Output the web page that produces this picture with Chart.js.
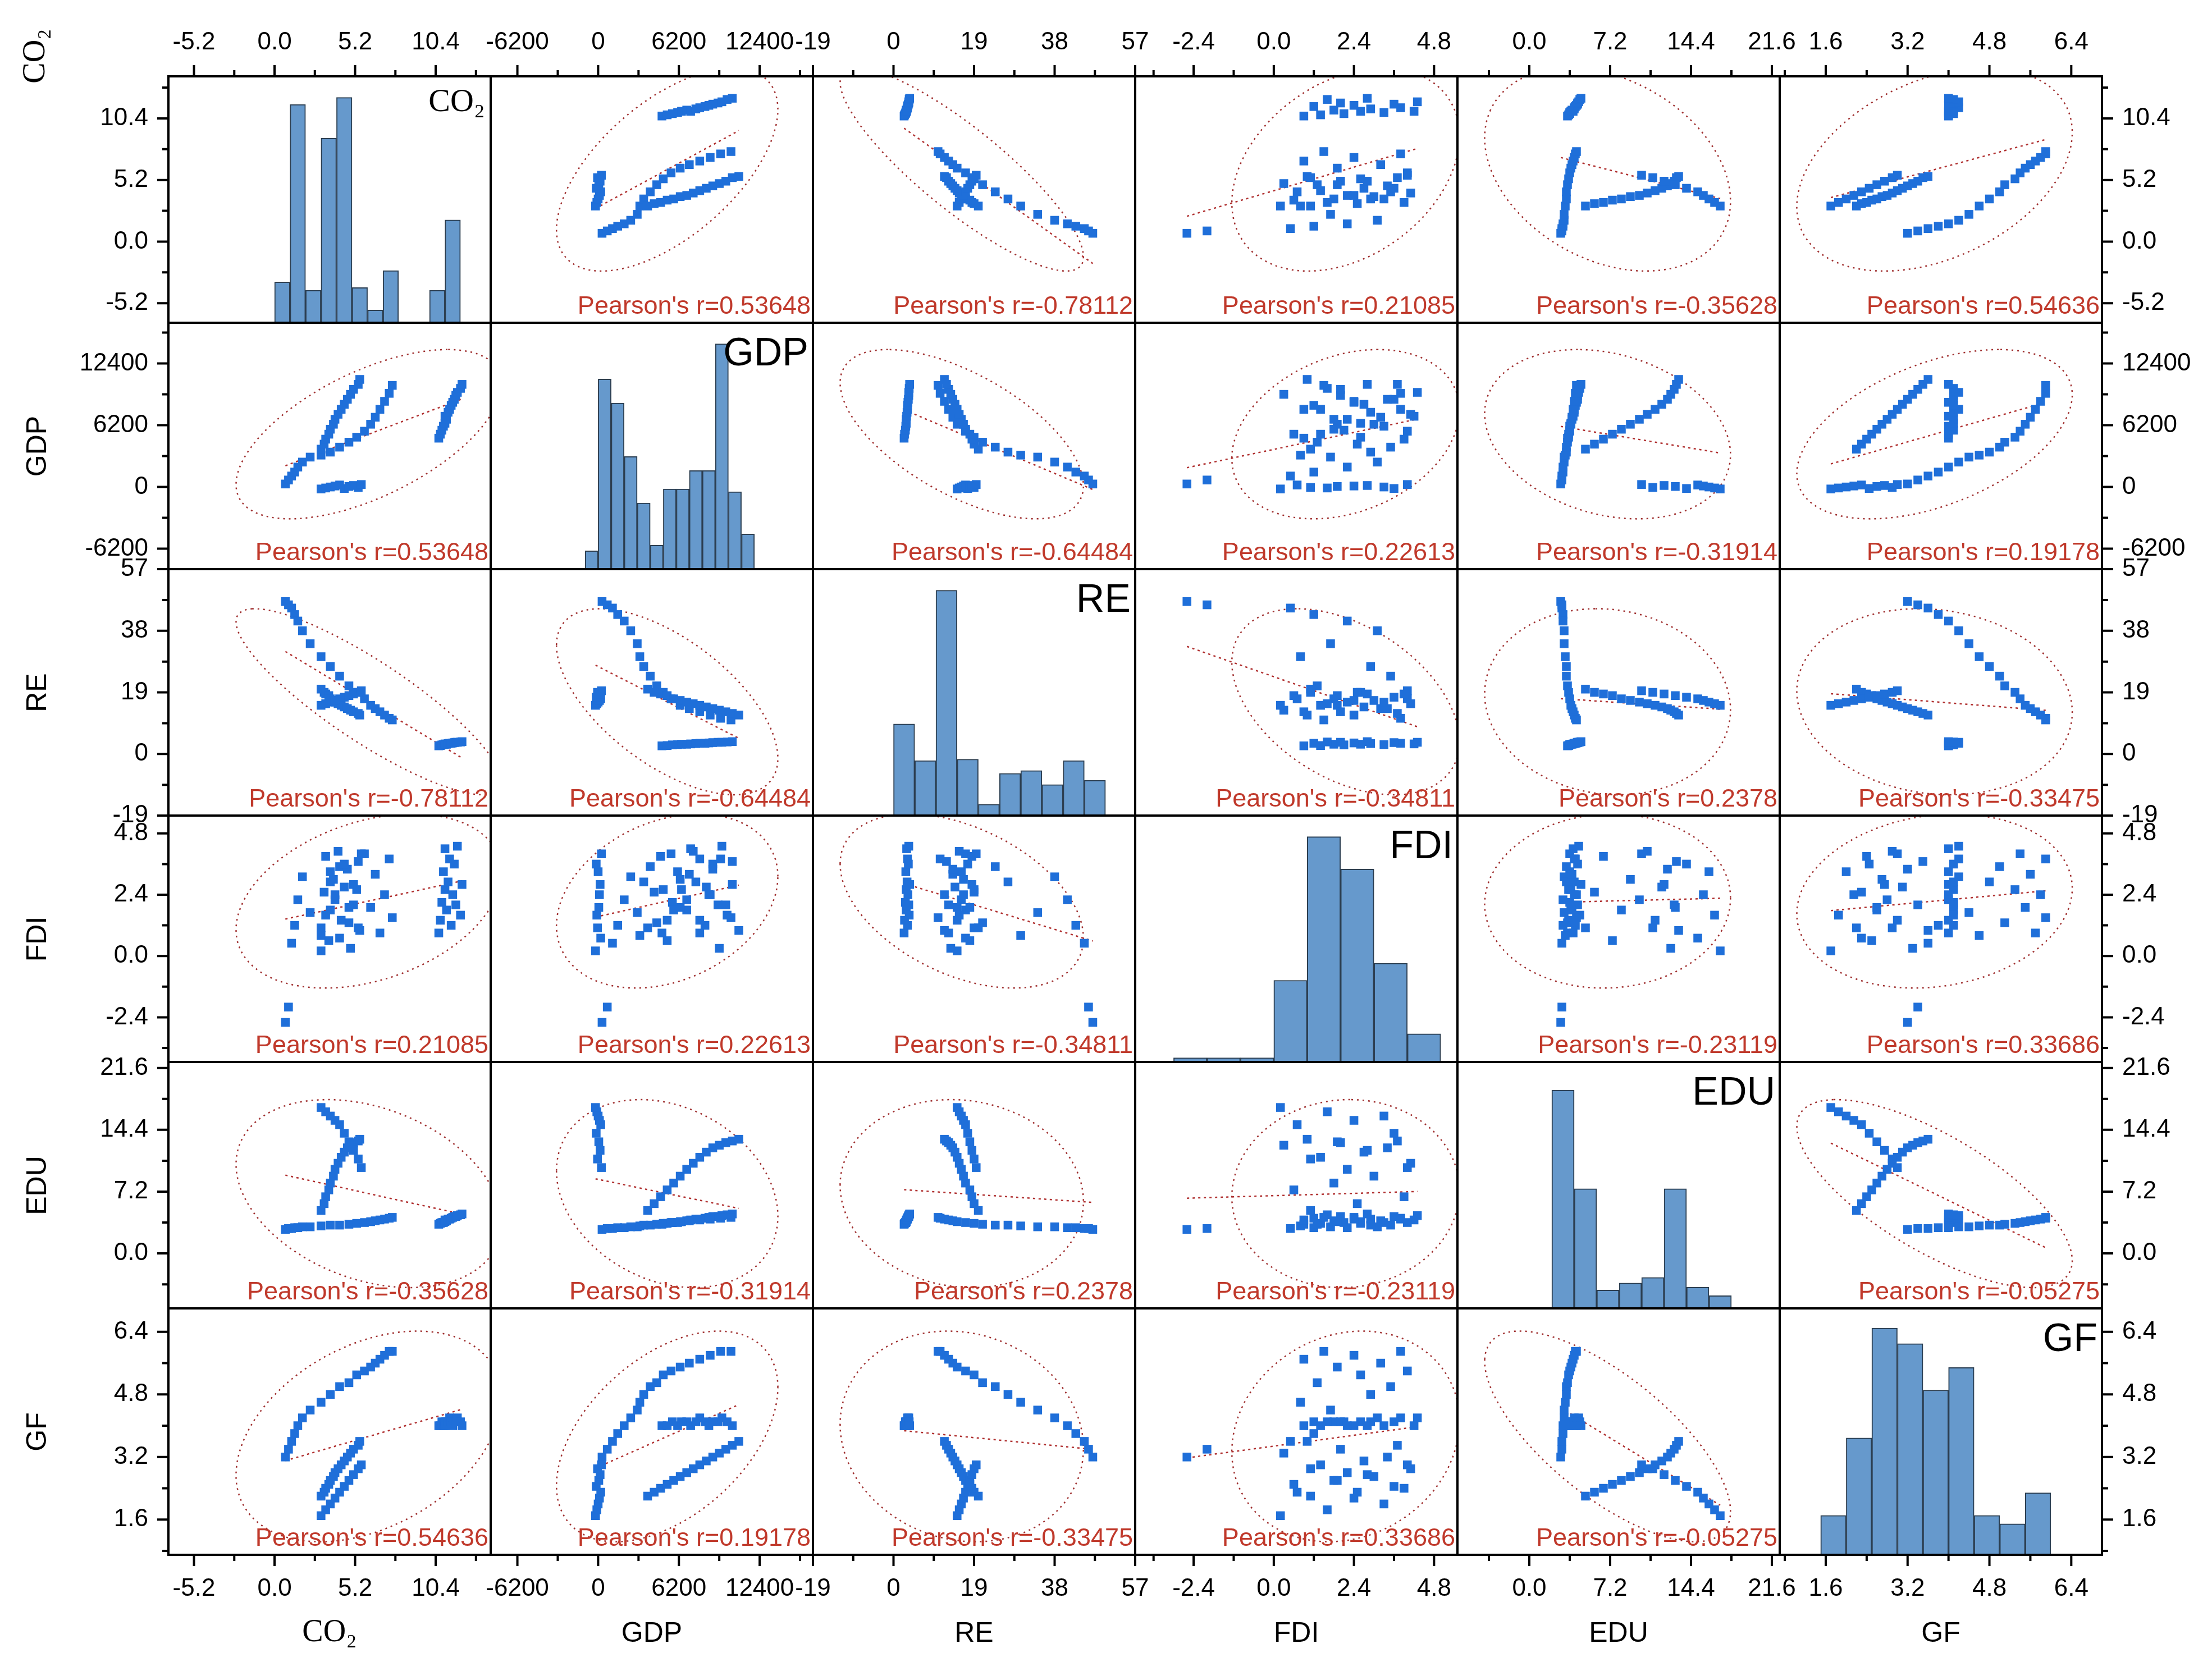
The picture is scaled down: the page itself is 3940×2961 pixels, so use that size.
<!DOCTYPE html>
<html><head><meta charset="utf-8">
<script src="https://cdn.jsdelivr.net/npm/chart.js@4/dist/chart.umd.min.js"></script>
<style>
body{margin:0;background:#fff;width:3940px;height:2961px;position:relative;overflow:hidden;font-family:"Liberation Sans",Arial,sans-serif}
canvas{position:absolute}
.t{position:absolute;color:#000;white-space:nowrap}
</style></head><body>
<script>
// ---- data (per observation) ----
const CO2 = [10.6,10.7,10.8,10.9,11.0,11.1,11.0,11.2,11.3,11.4,11.5,11.6,11.7,11.8,12.0,12.1,
  0.7,0.9,1.1,1.3,1.5,1.8,2.3,3.0,3.6,4.2,4.8,5.3,5.8,6.2,6.5,6.8,7.1,7.4,7.6,
  3.0,3.2,3.3,3.5,3.6,3.8,3.9,4.1,4.3,4.5,4.7,4.9,5.1,5.4,5.5,
  3.0,3.3,3.6,3.9,4.2,4.5,4.8,5.1,5.4,5.6];
const GDP = [4900,5300,5700,6100,6400,6800,7100,7500,7800,8200,8500,8800,9200,9500,9900,10300,
  300,700,1100,1500,2000,2500,3000,3200,3500,4000,4500,5000,5600,6300,7000,7800,8600,9400,10200,
  3800,4300,4800,5300,5800,6300,6800,7300,7800,8300,8800,9300,9800,10300,10800,
  -200,-100,0,100,200,-150,50,150,-50,250];
const RE = [2.5,2.6,2.8,2.9,3.0,3.0,3.1,3.2,3.3,3.3,3.4,3.5,3.6,3.6,3.7,3.8,
  47,46,45,43,41,38,34,30,27,24,21,19,17,15,14,13,12,11,10.5,
  20,19,18.5,18,17,16.5,16,15.5,15,14.5,14,13.5,13,12.5,12,
  15,15.5,16,16.5,17,17.5,18,18.5,19,19.5];
const FDI = [0.9,1.4,2.1,3.3,2.6,1.8,4.2,2.9,3.8,1.2,2.4,3.6,2.0,4.3,1.6,2.8,
  -2.6,-2.0,0.5,1.2,2.2,3.1,1.7,0.8,2.9,3.5,1.3,2.6,4.0,1.9,3.2,0.9,2.4,3.8,1.5,
  1.1,2.5,3.9,0.6,1.8,3.0,2.2,4.1,1.4,2.7,3.4,0.3,2.0,3.7,1.0,
  0.2,1.6,3.3,2.4,0.7,3.6,1.9,2.8,1.1,4.0];
const EDU = [3.4,3.5,3.6,3.6,3.7,3.8,3.9,4.0,4.0,4.1,4.2,4.3,4.3,4.4,4.5,4.6,
  2.8,2.9,2.9,3.0,3.0,3.1,3.1,3.2,3.3,3.3,3.4,3.5,3.6,3.7,3.8,3.9,4.0,4.1,4.2,
  5.0,5.8,6.6,7.4,8.2,9.0,9.8,10.5,11.2,11.8,12.3,12.6,12.9,13.1,13.3,
  17,16.5,16,15.5,15,14,13,12,11,10];
const GF = [4.0,4.0,4.1,4.0,4.1,4.1,4.0,4.1,4.2,4.1,4.0,4.1,4.1,4.2,4.1,4.0,
  3.2,3.4,3.6,3.8,4.0,4.2,4.4,4.6,4.8,5.0,5.1,5.3,5.4,5.5,5.6,5.7,5.8,5.9,5.9,
  2.2,2.3,2.4,2.5,2.6,2.7,2.8,2.9,3.0,3.1,3.2,3.3,3.4,3.5,3.6,
  1.7,1.85,2.0,2.15,2.3,2.45,2.6,2.75,2.9,3.0];

// histogram bins (start, width) and bar heights
const HIST_CO2_START=0, HIST_CO2_W=1, HIST_CO2=[29,155,23,131,160,25,9,37,0,0,23,73];
const HIST_GDP_START=-1000, HIST_GDP_W=1000, HIST_GDP=[13,135,118,80,47,17,57,57,70,70,160,55,25];
const HIST_RE_START=0, HIST_RE_W=5, HIST_RE=[65,39,160,40,8,30,32,22,39,25];
const HIST_FDI_START=-3, HIST_FDI_W=1, HIST_FDI=[3,3,3,58,160,137,70,20];
const HIST_EDU_START=2, HIST_EDU_W=2, HIST_EDU=[155,85,13,18,22,85,15,9];
const HIST_GF_START=1.5, HIST_GF_W=0.5, HIST_GF=[28,83,161,150,117,133,28,22,44];

// tick values
const TICKS_CO2=[-5.2,0,5.2,10.4], TICKS_GDP=[-6200,0,6200,12400], TICKS_RE=[-19,0,19,38,57],
      TICKS_FDI=[-2.4,0,2.4,4.8], TICKS_EDU=[0,7.2,14.4,21.6], TICKS_GF=[1.6,3.2,4.8,6.4];

// Pearson's r as printed
const PEARSON = [
 [null,'0.53648','-0.78112','0.21085','-0.35628','0.54636'],
 ['0.53648',null,'-0.64484','0.22613','-0.31914','0.19178'],
 ['-0.78112','-0.64484',null,'-0.34811','0.2378','-0.33475'],
 ['0.21085','0.22613','-0.34811',null,'-0.23119','0.33686'],
 ['-0.35628','-0.31914','0.2378','-0.23119',null,'-0.05275'],
 ['0.54636','0.19178','-0.33475','0.33686','-0.05275',null]];

const NAMES=['CO₂','GDP','RE','FDI','EDU','GF'];
const DATA=[CO2,GDP,RE,FDI,EDU,GF];
const HISTS=[[HIST_CO2_START,HIST_CO2_W,HIST_CO2],[HIST_GDP_START,HIST_GDP_W,HIST_GDP],[HIST_RE_START,HIST_RE_W,HIST_RE],
  [HIST_FDI_START,HIST_FDI_W,HIST_FDI],[HIST_EDU_START,HIST_EDU_W,HIST_EDU],[HIST_GF_START,HIST_GF_W,HIST_GF]];
const TICKS=[TICKS_CO2,TICKS_GDP,TICKS_RE,TICKS_FDI,TICKS_EDU,TICKS_GF];
const DEC=[1,0,0,1,1,1];
const MINS=[-6.85,-8250,-19,-4.15,-6.4,0.7];
const MAXS=[13.95,16490,57,5.5,22.3,7.0];

const X0=300,Y0=136,CW=574,CH=439,P=200;
const FONT="Liberation Sans";
const TXT=44;

function stats(xs,ys){
  const n=xs.length; let mx=0,my=0; for(let i=0;i<n;i++){mx+=xs[i];my+=ys[i];} mx/=n;my/=n;
  let sxx=0,syy=0,sxy=0; for(let i=0;i<n;i++){const a=xs[i]-mx,b=ys[i]-my;sxx+=a*a;syy+=b*b;sxy+=a*b;}
  sxx/=n-1;syy/=n-1;sxy/=n-1; return {mx,my,sxx,syy,sxy};
}
function ellipse(s){
  const tr=s.sxx+s.syy, det=s.sxx*s.syy-s.sxy*s.sxy, d=Math.sqrt(tr*tr/4-det);
  const l1=tr/2+d,l2=tr/2-d; let ang=Math.abs(s.sxy)<1e-12?(s.sxx>=s.syy?0:Math.PI/2):Math.atan2(l1-s.sxx,s.sxy);
  const k=Math.sqrt(5.991), a=k*Math.sqrt(l1), b=k*Math.sqrt(Math.max(l2,0)); const pts=[];
  for(let t=0;t<=360;t+=3){const th=t*Math.PI/180; const u=a*Math.cos(th),v=b*Math.sin(th);
    pts.push({x:s.mx+u*Math.cos(ang)-v*Math.sin(ang), y:s.my+u*Math.sin(ang)+v*Math.cos(ang)});}
  return pts;
}

const cellPlugin={id:'cell',afterDraw(ch){
  const o=ch.options.plugins.cell, a=ch.chartArea, g=ch.ctx; g.save();
  g.strokeStyle='#000'; g.lineWidth=4; g.strokeRect(a.left,a.top,a.right-a.left,a.bottom-a.top);
  const xs=ch.scales.x, ys=ch.scales.y, xt=TICKS[o.c], yt=TICKS[o.r];
  const mk=(arr,sc,fn)=>{const st=arr[1]-arr[0]; for(let v=arr[0]-st;v<=arr[arr.length-1]+st+1e-9;v+=st/2){
      const isMaj=arr.some(t=>Math.abs(t-v)<st*1e-3); const p=sc.getPixelForValue(v);
      if(sc.isHorizontal()&&(p<sc.left-1||p>sc.right+1))continue;
      if(!sc.isHorizontal()&&(p<sc.top-1||p>sc.bottom+1))continue; fn(p,isMaj?20:11);} };
  g.beginPath();
  if(o.r===5) mk(xt,xs,(p,l)=>{g.moveTo(p,a.bottom);g.lineTo(p,a.bottom+l);});
  if(o.r===0) mk(xt,xs,(p,l)=>{g.moveTo(p,a.top);g.lineTo(p,a.top-l);});
  if(o.c===0) mk(yt,ys,(p,l)=>{g.moveTo(a.left,p);g.lineTo(a.left-l,p);});
  if(o.c===5) mk(yt,ys,(p,l)=>{g.moveTo(a.right,p);g.lineTo(a.right+l,p);});
  g.stroke();
  if(o.r===o.c){
    g.fillStyle='#000'; g.textAlign='right'; g.textBaseline='top';
    if(o.r===0){g.font='58px "Liberation Serif"'; g.fillText('CO₂',a.right-10,a.top+18);}
    else {g.font='70px "'+FONT+'"'; g.fillText(NAMES[o.r],a.right-8,a.top+22);}
  } else {
    g.fillStyle='#c0392b'; g.font='45px "'+FONT+'"'; g.textAlign='right'; g.textBaseline='bottom';
    g.fillText("Pearson's r="+PEARSON[o.r][o.c],a.right-4,a.bottom-6);
  }
  g.restore();
}};

function axis(pos,vi,showTicks,isX){
  return {type:'linear',position:pos,min:MINS[vi],max:MAXS[vi],offset:false,
    afterFit:s=>{if(isX)s.height=P;else s.width=P;},
    afterBuildTicks:s=>{s.ticks=TICKS[vi].map(v=>({value:v}));},
    ticks:{display:showTicks,font:{family:FONT,size:TXT},color:'#000',padding:isX?26:28,maxRotation:0,autoSkip:false,
      callback:v=>Number(v).toFixed(DEC[vi])},
    grid:{display:false,offset:false},border:{display:false}};
}

for(let r=0;r<6;r++)for(let c=0;c<6;c++){
  const cv=document.createElement('canvas'); const W=CW+2*P,H=CH+2*P;
  cv.width=W;cv.height=H;cv.style.width=W+'px';cv.style.height=H+'px';
  cv.style.left=(X0+c*CW-P)+'px';cv.style.top=(Y0+r*CH-P)+'px';
  document.body.appendChild(cv);
  const datasets=[]; const scales={
    x:axis('bottom',c,r===5,true), xt:axis('top',c,r===0,true),
    y:axis('left',r,c===0,false), yr:axis('right',r,c===5,false)};
  if(r===c){
    const [st,w,h]=HISTS[r];
    datasets.push({type:'bar',data:h.map((v,i)=>({x:st+w*(i+0.5),y:v})),backgroundColor:'#6699cc',
      borderColor:'#2c3e50',borderWidth:2,barPercentage:1,categoryPercentage:1,xAxisID:'x',yAxisID:'yh',grouped:false});
    scales.yh={type:'linear',display:false,min:0,max:175};
  } else {
    const xs=DATA[c], ys=DATA[r]; const s=stats(xs,ys);
    datasets.push({type:'scatter',data:xs.map((v,i)=>({x:v,y:ys[i]})),pointStyle:'rect',pointRadius:11,
      backgroundColor:'#1f6fd9',borderWidth:0,xAxisID:'x',yAxisID:'y'});
    const b=s.sxy/s.sxx, a0=s.my-b*s.mx, mn=Math.min(...xs), mx=Math.max(...xs);
    datasets.push({type:'line',data:[{x:mn,y:a0+b*mn},{x:mx,y:a0+b*mx}],borderColor:'#b03030',borderWidth:2.5,
      borderDash:[4,6],pointRadius:0,xAxisID:'x',yAxisID:'y'});
    datasets.push({type:'line',data:ellipse(s),borderColor:'#a03030',borderWidth:2.5,borderDash:[3,7],pointRadius:0,
      tension:0,xAxisID:'x',yAxisID:'y'});
  }
  new Chart(cv,{data:{datasets},options:{responsive:false,animation:false,devicePixelRatio:1,
    layout:{padding:0},scales,
    plugins:{legend:{display:false},tooltip:{enabled:false},cell:{r,c}}},plugins:[cellPlugin]});
}

// axis titles
const addT=(txt,x,y,size,fam,rot)=>{const d=document.createElement('div');d.className='t';d.textContent=txt;
  d.style.font=size+'px "'+fam+'"';d.style.left=x+'px';d.style.top=y+'px';
  d.style.transform='translate(-50%,-50%)'+(rot?' rotate(-90deg)':'');document.body.appendChild(d);};
addT('CO₂',60,100,56,'Liberation Serif',true);
for(let r=1;r<6;r++) addT(NAMES[r],65,Y0+r*CH+CH/2,50,FONT,true);
addT('CO₂',X0+CW/2,2905,56,'Liberation Serif',false);
for(let c=1;c<6;c++) addT(NAMES[c],X0+c*CW+CW/2,2908,50,FONT,false);
</script></body></html>
